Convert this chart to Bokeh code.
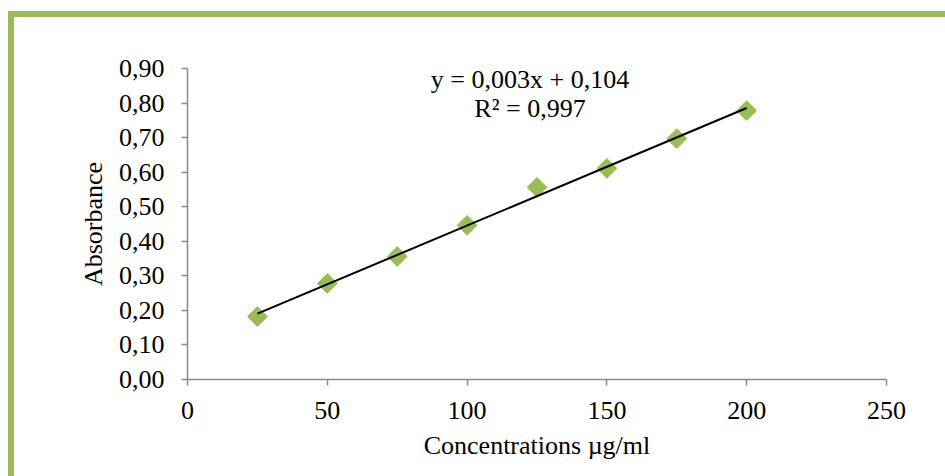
from bokeh.plotting import figure
from bokeh.models import Range1d, FixedTicker, CustomJSTickFormatter, Label, ColumnDataSource
from bokeh.layouts import column
from bokeh.embed import file_html
from bokeh.resources import INLINE
import numpy as np

# ---- data ----
concentrations = [25, 50, 75, 100, 125, 150, 175, 200]
absorbance = [0.182, 0.278, 0.356, 0.446, 0.556, 0.611, 0.697, 0.778]
x_ticks = [0, 50, 100, 150, 200, 250]
y_ticks = [0.0, 0.1, 0.2, 0.3, 0.4, 0.5, 0.6, 0.7, 0.8, 0.9]
equation_text = "y = 0,003x + 0,104"
r2_text = "R\u00b2 = 0,997"
x_title = "Concentrations \u00b5g/ml"
y_title = "Absorbance"

GREEN = "#9BBB59"
FONT = "Liberation Serif"
FS = "26px"

p = figure(width=931, height=459, output_backend="svg", toolbar_location=None,
           x_range=Range1d(0, 250), y_range=Range1d(0, 0.9),
           min_border_left=173, min_border_right=59, min_border_top=51, min_border_bottom=97)
p.outline_line_color = None
p.grid.grid_line_color = None
p.background_fill_color = "white"
p.border_fill_color = "white"

for ax in (p.xaxis[0], p.yaxis[0]):
    ax.axis_line_color = "#8a8a8a"
    ax.axis_line_width = 1.5
    ax.major_tick_line_color = "#8a8a8a"
    ax.major_tick_line_width = 1.5
    ax.major_tick_out = 6
    ax.major_tick_in = 0
    ax.minor_tick_line_color = None
    ax.major_label_text_font = FONT
    ax.major_label_text_font_size = FS
    ax.major_label_text_color = "black"
    ax.axis_label_text_font = FONT
    ax.axis_label_text_font_size = FS
    ax.axis_label_text_font_style = "normal"
    ax.axis_label_text_color = "black"

p.xaxis.ticker = FixedTicker(ticks=x_ticks)
p.yaxis.ticker = FixedTicker(ticks=y_ticks)
p.yaxis.formatter = CustomJSTickFormatter(code="return tick.toFixed(2).replace('.', ',');")
p.xaxis.major_label_standoff = 16
p.yaxis.major_label_standoff = 17
p.xaxis.axis_label = x_title
p.yaxis.axis_label = y_title
p.xaxis.axis_label_standoff = 9
p.yaxis.axis_label_standoff = 8

src = ColumnDataSource(dict(x=concentrations, y=absorbance))
p.scatter("x", "y", source=src, marker="square", size=14, angle=np.pi / 4,
          fill_color=GREEN, line_color=GREEN)

slope, intercept = np.polyfit(concentrations, absorbance, 1)
xs = [min(concentrations), max(concentrations)]
p.line(xs, [slope * v + intercept for v in xs], line_color="black", line_width=2)

p.add_layout(Label(x=122.5, y=0.869, text=equation_text, text_align="center",
                   text_baseline="alphabetic", text_font=FONT, text_font_size=FS,
                   text_color="black"))
p.add_layout(Label(x=122.5, y=0.783, text=r2_text, text_align="center",
                   text_baseline="alphabetic", text_font=FONT, text_font_size=FS,
                   text_color="black"))

# green chart-area border (left and top visible)
layout = column(p, styles={"border-left": "6px solid " + GREEN,
                           "border-top": "6px solid " + GREEN,
                           "margin-top": "11px", "margin-left": "8px"})

open("out.html", "w").write(file_html(layout, INLINE))
